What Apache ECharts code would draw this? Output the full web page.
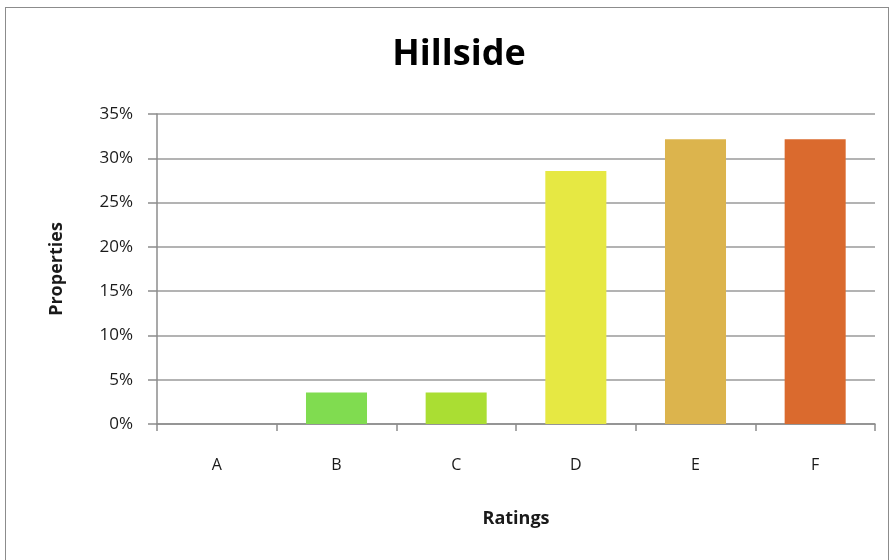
<!DOCTYPE html>
<html>
<head>
<meta charset="utf-8">
<script src="https://cdn.jsdelivr.net/npm/echarts@6/dist/echarts.min.js"></script>
<style>
  html, body { margin: 0; padding: 0; background: #fff; }
  #frame { position: absolute; left: 5px; top: 7px; width: 884px; height: 560px; border: 1px solid #8c8c8c; box-sizing: border-box; }
  #chart { position: absolute; left: 0; top: 0; width: 894px; height: 560px; }
</style>
</head>
<body>
<div id="frame"></div>
<div id="chart"></div>
<script>
// share of properties per rating (28 properties: 0,1,1,8,9,9)
const ratings = ['A', 'B', 'C', 'D', 'E', 'F'];
const shares = [0, 3.57, 3.57, 28.57, 32.14, 32.14];
const barColors = ['#6fd650', '#80dc50', '#aade33', '#e6e843', '#dcb44d', '#da6a2e'];
const yTicks = [0, 5, 10, 15, 20, 25, 30, 35];

const font = '"Open Sans", "Noto Sans", sans-serif';

let chart = echarts.init(document.getElementById('chart'));
let option = {
  animation: false,
  title: {
    text: 'Hillside',
    left: 454,
    textAlign: 'center',
    top: 32,
    textStyle: { fontFamily: font, fontSize: 36, fontWeight: 'bold', color: '#000' }
  },
  grid: { left: 157, right: 19, top: 114, bottom: 136 },
  xAxis: {
    type: 'category',
    data: ratings,
    name: 'Ratings',
    nameLocation: 'middle',
    nameGap: 86,
    nameTextStyle: { fontFamily: font, fontSize: 18, fontWeight: 'bold', color: '#1a1a1a' },
    axisLine: { lineStyle: { color: '#8c8c8c', width: 1.5 } },
    axisTick: { show: true, alignWithLabel: false, length: 7, lineStyle: { color: '#8c8c8c', width: 1.5 } },
    axisLabel: { fontFamily: font, fontSize: 16, color: '#1a1a1a', margin: 33 }
  },
  yAxis: {
    type: 'value',
    min: yTicks[0],
    max: yTicks[yTicks.length - 1],
    interval: 5,
    name: 'Properties',
    nameLocation: 'middle',
    nameGap: 91,
    nameRotate: 90,
    nameTextStyle: { fontFamily: font, fontSize: 18, fontWeight: 'bold', color: '#1a1a1a' },
    axisLine: { show: true, lineStyle: { color: '#8c8c8c', width: 1.5 } },
    axisTick: { show: true, length: 9, lineStyle: { color: '#8c8c8c', width: 1.5 } },
    axisLabel: { fontFamily: font, fontSize: 17, color: '#1a1a1a', margin: 24, formatter: '{value}%' },
    splitLine: { lineStyle: { color: '#9a9a9a', width: 1.5 } }
  },
  series: [{
    type: 'bar',
    barWidth: '51%',
    data: shares.map((v, i) => ({ value: v, itemStyle: { color: barColors[i] } }))
  }]
};
chart.setOption(option);
</script>
</body>
</html>
